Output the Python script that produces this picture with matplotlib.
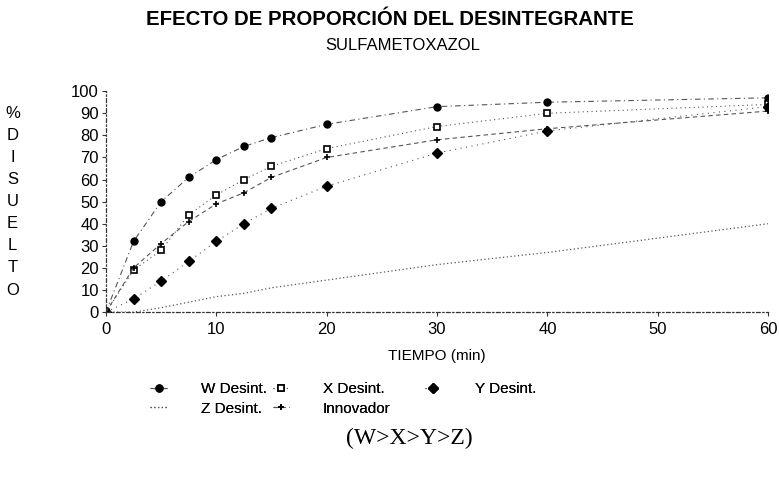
import matplotlib.pyplot as plt
from matplotlib import font_manager
import matplotlib.transforms as mtransforms

# dissolution profiles, % disuelto vs tiempo (min)
tiempo = [0, 2.5, 5, 7.5, 10, 12.5, 15, 20, 30, 40, 60]
w_desint = [0, 32, 50, 61, 69, 75, 79, 85, 93, 95, 97]
x_desint = [0, 19, 28, 44, 53, 60, 66, 74, 84, 90, 94]
y_desint = [0, 6, 14, 23, 32, 40, 47, 57, 72, 82, 93]
z_desint = [0, 0, 2, 4.5, 7, 8.5, 11, 14.5, 21.5, 27, 40]
innovador = [0, 20, 31, 41, 49, 54, 61, 70, 78, 83, 91]

y_letters = ["%", "D", "I", "S", "U", "E", "L", "T", "O"]
y_letter_pos = [90, 80, 70, 60, 50, 40, 30, 20, 10]

names = [f.name for f in font_manager.fontManager.ttflist]
sans = "Liberation Sans Narrow" if "Liberation Sans Narrow" in names else "Liberation Sans"
plt.rcParams["font.family"] = [sans, "DejaVu Sans"]

fig = plt.figure(figsize=(7.79, 5.01), dpi=100)
ax = fig.add_axes([0.136, 0.377, 0.850, 0.441])

lc = "#555555"
ax.plot(tiempo, w_desint, color=lc, lw=0.8, ls=(0, (5, 3, 1, 3)),
        marker="o", ms=5, mfc="black", mec="black", label="W Desint.")
ax.plot(tiempo, x_desint, color=lc, lw=0.8, ls=(0, (1, 3)),
        marker="s", ms=4, mfc="white", mec="black", mew=1.2, label="X Desint.")
ax.plot(tiempo, y_desint, color=lc, lw=0.8, ls=(0, (1, 4)),
        marker="D", ms=5, mfc="black", mec="black", label="Y Desint.")
ax.plot(tiempo, z_desint, color=lc, lw=0.9, ls=(0, (1, 2)),
        label="Z Desint.")
ax.plot(tiempo, innovador, color=lc, lw=0.8, ls=(0, (4, 3)),
        marker="+", ms=5, mec="black", mew=1.2, label="Innovador")

ax.set_xlim(0, 60)
ax.set_ylim(0, 100)
ax.set_xticks(range(0, 61, 10))
ax.set_yticks(range(0, 101, 10))
ax.tick_params(labelsize=12, length=3, width=0.8, color="#333333")
ax.tick_params(axis="x", pad=4)
ax.tick_params(axis="y", pad=2)
for side in ("top", "right"):
    ax.spines[side].set_visible(False)
for side in ("left", "bottom"):
    ax.spines[side].set_linestyle((0, (3, 2, 1, 2)))
    ax.spines[side].set_linewidth(0.9)
    ax.spines[side].set_color("#333333")

ax.set_xlabel("TIEMPO (min)", fontsize=11, labelpad=9)

# stacked vertical axis title
trans = mtransforms.blended_transform_factory(fig.transFigure, ax.transData)
for letter, yv in zip(y_letters, y_letter_pos):
    ax.text(0.016, yv, letter, transform=trans, fontsize=12,
            ha="center", va="center")

fig.text(0.5, 0.962, "EFECTO DE PROPORCIÓN DEL DESINTEGRANTE",
         fontsize=14.7, fontweight="bold", ha="center", va="center")
fig.text(0.517, 0.91, "SULFAMETOXAZOL", fontsize=12, ha="center", va="center")

# legend laid out as three separate columns
handles, labels = ax.get_legend_handles_labels()
columns = [([0, 3], 0.193), ([1, 4], 0.350), ([2], 0.545)]
for idx, xpos in columns:
    leg = fig.legend([handles[i] for i in idx], [labels[i] for i in idx],
                     frameon=False, fontsize=11, handlelength=1.1,
                     handletextpad=2.2, labelspacing=0.35, borderpad=0,
                     borderaxespad=0, loc="upper left",
                     bbox_to_anchor=(xpos, 0.237))
    fig.add_artist(leg)

fig.text(0.526, 0.125, "(W>X>Y>Z)", fontsize=17, ha="center", va="center",
         family="Liberation Serif")

fig.savefig("out.png", dpi=100)
